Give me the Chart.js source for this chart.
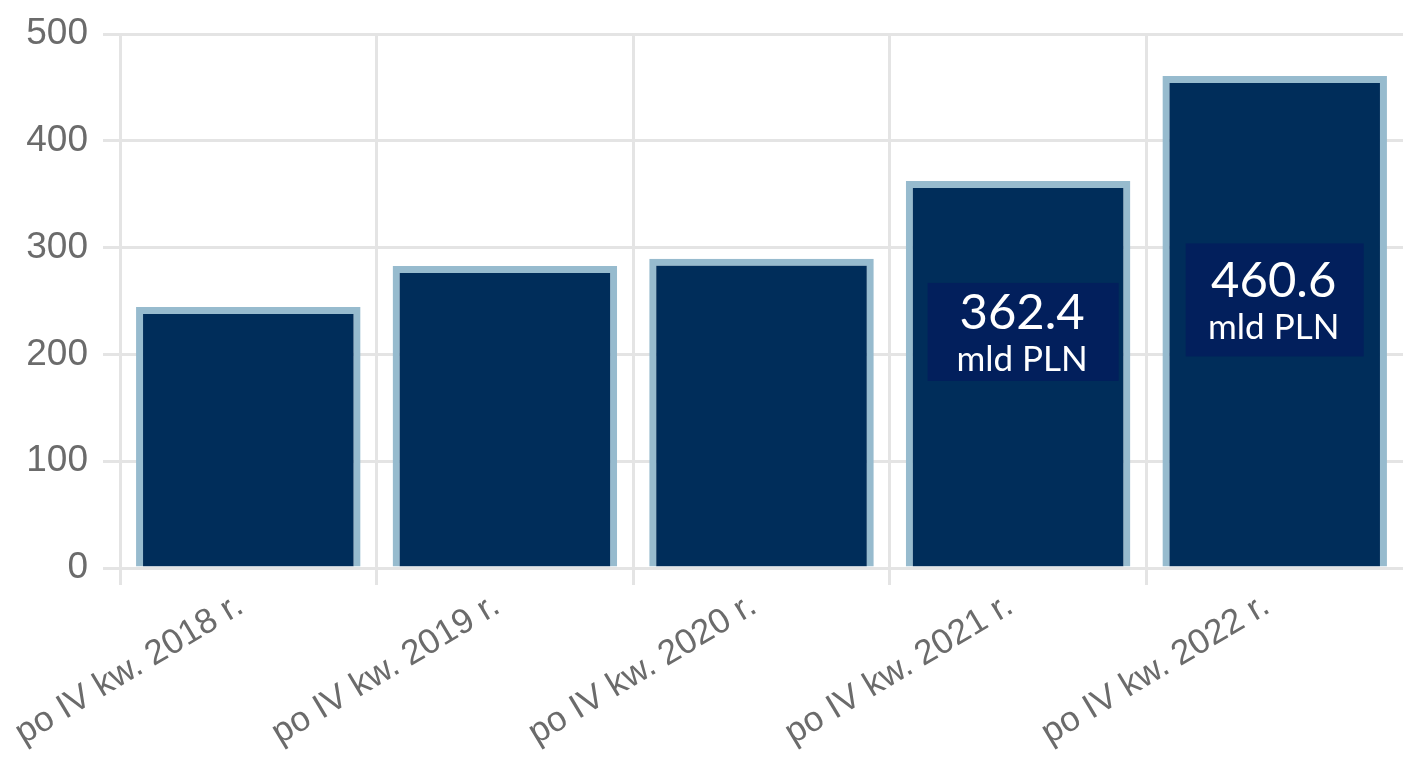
<!DOCTYPE html>
<html>
<head>
<meta charset="utf-8">
<script src="https://cdn.jsdelivr.net/npm/chart.js@4"></script>
<style>
  html, body { margin: 0; padding: 0; background: #ffffff; }
  #wrap { width: 1403px; height: 766px; }
</style>
</head>
<body>
<div id="wrap"><canvas id="c" width="1403" height="766"></canvas></div>
<script>
const categories = ['po IV kw. 2018 r.', 'po IV kw. 2019 r.', 'po IV kw. 2020 r.', 'po IV kw. 2021 r.', 'po IV kw. 2022 r.'];
const values = [244.4, 282.8, 289.5, 362.4, 460.6];
const yTicks = [0, 100, 200, 300, 400, 500];
const calloutNumbers = [null, null, null, '362.4', '460.6'];
const calloutUnit = 'mld PLN';

const calloutStyle = {
  3: { centerValue: 221, width: 191, height: 98, dx: 5 },
  4: { centerValue: 251, width: 178, height: 113, dx: 0 }
};

const calloutPlugin = {
  id: 'callouts',
  afterDatasetsDraw(chart) {
    const ctx = chart.ctx;
    const meta = chart.getDatasetMeta(0);
    const y = chart.scales.y;
    calloutNumbers.forEach((num, i) => {
      if (!num) return;
      const st = calloutStyle[i];
      const bar = meta.data[i];
      const cx = bar.x + st.dx;
      const cy = y.getPixelForValue(st.centerValue);
      ctx.save();
      ctx.fillStyle = '#021f5c';
      ctx.fillRect(cx - st.width / 2, cy - st.height / 2, st.width, st.height);
      ctx.fillStyle = '#ffffff';
      ctx.textAlign = 'center';
      ctx.textBaseline = 'middle';
      ctx.font = '49px Lato, "Open Sans", sans-serif';
      ctx.fillText(num, cx - 1, cy - 19);
      ctx.font = '35px Lato, "Open Sans", sans-serif';
      ctx.fillText(calloutUnit, cx - 1, cy + 28);
      ctx.restore();
    });
  }
};

const gridColor = '#e4e4e4';

new Chart(document.getElementById('c'), {
  type: 'bar',
  data: {
    labels: categories,
    datasets: [{
      data: values,
      backgroundColor: '#002d5a',
      borderColor: '#97bbce',
      borderWidth: 7,
      barPercentage: 0.875,
      categoryPercentage: 1.0
    }]
  },
  options: {
    responsive: false,
    animation: false,
    devicePixelRatio: 1,
    layout: { padding: { top: 34, right: 0, left: 0, bottom: 0 } },
    plugins: { legend: { display: false }, tooltip: { enabled: false } },
    scales: {
      x: {
        grid: {
          color: (c) => (c.tick && typeof c.index === 'number' && c.index < categories.length ? gridColor : 'rgba(0,0,0,0)'),
          lineWidth: 3, tickLength: 17, offset: true
        },
        border: { color: gridColor, width: 3 },
        ticks: {
          color: '#6b6b6b',
          font: { family: '"Liberation Sans", Arial, sans-serif', size: 35 },
          minRotation: 31, maxRotation: 31,
          padding: 0,
          labelOffset: -8
        },
        afterFit(scale) { scale.height = 198; scale.paddingLeft = 0; scale.paddingRight = 0; }
      },
      y: {
        min: 0, max: 500,
        afterBuildTicks(scale) { scale.ticks = yTicks.map(v => ({ value: v })); },
        grid: { color: gridColor, lineWidth: 3, tickLength: 17 },
        border: { color: gridColor, width: 3 },
        ticks: {
          color: '#6b6b6b',
          font: { family: '"Liberation Sans", Arial, sans-serif', size: 37 },
          padding: 15
        },
        afterFit(scale) { scale.width = 120; scale.paddingTop = 0; scale.paddingBottom = 0; }
      }
    }
  },
  plugins: [calloutPlugin]
});
</script>
</body>
</html>
